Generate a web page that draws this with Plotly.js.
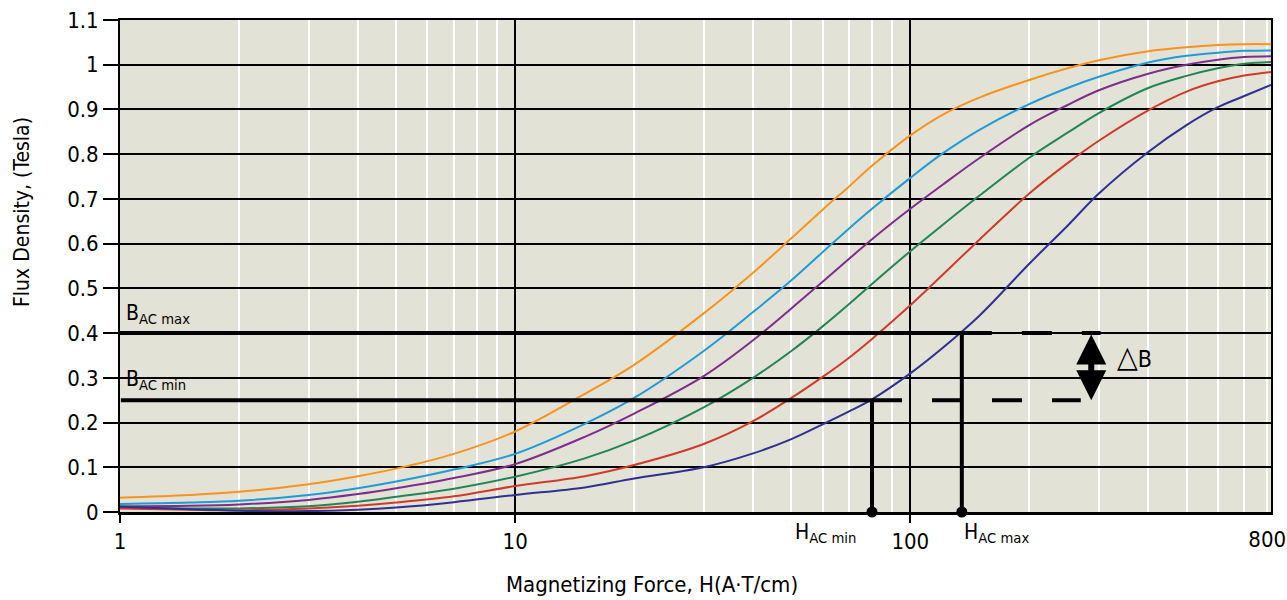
<!DOCTYPE html>
<html>
<head>
<meta charset="utf-8">
<script src="https://cdn.plot.ly/plotly-3.0.1.min.js"></script>
<style>
  html, body { margin: 0; padding: 0; background: #ffffff; }
  #chart { width: 1287px; height: 600px; }
</style>
</head>
<body>
<div id="chart"></div>
<script>
// ---- Data ----
const H = [1, 1.5, 2, 3, 4, 5, 7, 10, 15, 20, 30, 40, 50, 60, 70, 80, 100, 120, 150, 200, 250, 300, 400, 500, 600, 700, 818];

const B_ORANGE = [0.032, 0.038, 0.045, 0.062, 0.080, 0.097, 0.130, 0.180, 0.264, 0.329, 0.444, 0.535, 0.612, 0.676, 0.728, 0.774, 0.842, 0.887, 0.927, 0.966, 0.992, 1.010, 1.030, 1.039, 1.044, 1.046, 1.046];
const B_BLUE   = [0.018, 0.021, 0.025, 0.038, 0.053, 0.068, 0.095, 0.130, 0.197, 0.255, 0.360, 0.447, 0.518, 0.581, 0.634, 0.678, 0.747, 0.800, 0.855, 0.912, 0.948, 0.973, 1.005, 1.020, 1.027, 1.031, 1.032];
const B_PURPLE = [0.013, 0.014, 0.017, 0.027, 0.040, 0.053, 0.076, 0.107, 0.168, 0.220, 0.304, 0.384, 0.455, 0.515, 0.566, 0.610, 0.678, 0.730, 0.792, 0.865, 0.910, 0.943, 0.980, 1.000, 1.011, 1.017, 1.019];
const B_GREEN  = [0.010, 0.008, 0.008, 0.013, 0.023, 0.034, 0.052, 0.079, 0.120, 0.160, 0.234, 0.300, 0.360, 0.415, 0.465, 0.510, 0.583, 0.640, 0.708, 0.792, 0.848, 0.892, 0.948, 0.975, 0.992, 1.002, 1.006];
const B_RED    = [0.008, 0.005, 0.004, 0.008, 0.014, 0.021, 0.035, 0.058, 0.080, 0.105, 0.152, 0.203, 0.255, 0.302, 0.345, 0.387, 0.462, 0.528, 0.610, 0.712, 0.780, 0.830, 0.898, 0.940, 0.963, 0.976, 0.984];
const B_NAVY   = [0.012, 0.006, 0.003, 0.002, 0.005, 0.010, 0.022, 0.038, 0.055, 0.075, 0.100, 0.131, 0.163, 0.196, 0.225, 0.252, 0.310, 0.365, 0.440, 0.555, 0.640, 0.712, 0.805, 0.865, 0.905, 0.930, 0.955];

// Operating points
const B_AC_MAX = 0.4;
const B_AC_MIN = 0.25;
const H_AC_MIN = 80;
const H_AC_MAX = 135;
const H_DASH_END_MAX = 303;
const H_DASH_END_MIN = 270;
const H_DELTA_B = 287;
const H_DELTA_LABEL = 330;

// Axis ticks
const X_MAJOR = [1, 10, 100];
const X_EXTRA = [800];
const X_MINOR = [2,3,4,5,6,7,8,9,20,30,40,50,60,70,80,90,200,300,400,500,600,700,800];
const Y_TICKS = [0,0.1,0.2,0.3,0.4,0.5,0.6,0.7,0.8,0.9,1,1.1];
const Y_TICKTEXT = ['0','0.1','0.2','0.3','0.4','0.5','0.6','0.7','0.8','0.9','1','1.1'];
const X_MAX = 818;

const FONT = '"DejaVu Sans Condensed", "DejaVu Sans", sans-serif';

const curves = [
  {b: B_ORANGE, c: '#F7941D'},
  {b: B_BLUE,   c: '#1F9BD7'},
  {b: B_PURPLE, c: '#7D2E8A'},
  {b: B_GREEN,  c: '#208656'},
  {b: B_RED,    c: '#CF3B2A'},
  {b: B_NAVY,   c: '#2E3192'}
];

const traces = curves.map(cv => ({
  x: H, y: cv.b, type: 'scatter', mode: 'lines',
  line: {color: cv.c, width: 2, shape: 'spline', smoothing: 1},
  hoverinfo: 'skip', showlegend: false
}));

function seg(x, y, dash) {
  return {x: x, y: y, type: 'scatter', mode: 'lines', showlegend: false, hoverinfo: 'skip',
          line: {color: '#000', width: 4, dash: dash || 'solid'}};
}
traces.push(seg([1, H_AC_MAX], [B_AC_MAX, B_AC_MAX]));
traces.push(seg([H_AC_MAX, H_DASH_END_MAX], [B_AC_MAX, B_AC_MAX], '30px,30px'));
traces.push(seg([1.005, H_AC_MIN], [B_AC_MIN, B_AC_MIN]));
traces.push(seg([H_AC_MIN, H_DASH_END_MIN], [B_AC_MIN, B_AC_MIN], '30px,30px'));
traces.push(seg([H_AC_MIN, H_AC_MIN], [0, B_AC_MIN]));
traces.push(seg([H_AC_MAX, H_AC_MAX], [0, B_AC_MAX]));
traces.push({x: [H_AC_MIN, H_AC_MAX], y: [0, 0], type: 'scatter', mode: 'markers', cliponaxis: false,
  marker: {color: '#000', size: 11}, showlegend: false, hoverinfo: 'skip'});
traces.push({x: [X_MAX], y: [null], xaxis: 'x2', type: 'scatter', mode: 'markers', showlegend: false, hoverinfo: 'skip'});

const L = Math.log10;
const layout = {
  width: 1287, height: 600,
  margin: {l: 120, r: 16, t: 20, b: 88},
  paper_bgcolor: '#ffffff',
  plot_bgcolor: '#E3E2D6',
  font: {family: FONT, color: '#000', size: 22},
  showlegend: false,
  xaxis: {
    type: 'log', range: [0, L(X_MAX)],
    tickvals: X_MAJOR, ticktext: ['1', '10', '100'],
    showgrid: true, gridcolor: '#000', gridwidth: 2,
    ticks: 'outside', ticklen: 8, tickwidth: 2, tickcolor: '#000',
    showline: true, linecolor: '#000', linewidth: 2.5, mirror: true,
    zeroline: false,
    tickfont: {family: FONT, size: 22},
    minor: {tickvals: X_MINOR, showgrid: true, gridcolor: '#ffffff', gridwidth: 2, ticks: ''}
  },
  xaxis2: {
    type: 'log', range: [0, L(X_MAX)], overlaying: 'x', side: 'bottom',
    tickvals: X_EXTRA, ticktext: ['800'], showgrid: false, ticks: 'outside', ticklen: 8, tickcolor: 'rgba(0,0,0,0)',
    showline: false, zeroline: false, tickfont: {family: FONT, size: 22}
  },
  yaxis: {
    range: [0, 1.1], tickvals: Y_TICKS, ticktext: Y_TICKTEXT,
    showgrid: true, gridcolor: '#000', gridwidth: 2,
    ticks: 'outside', ticklen: 15, tickwidth: 2, tickcolor: '#000',
    showline: true, linecolor: '#000', linewidth: 2, mirror: true,
    zeroline: false,
    tickfont: {family: FONT, size: 22}
  },
  annotations: [
    {xref: 'x', yref: 'y', x: L(1), y: B_AC_MAX, xanchor: 'left', yanchor: 'bottom', xshift: 4, yshift: 4,
     text: 'B<sub>AC max</sub>', showarrow: false, font: {family: FONT, size: 21}},
    {xref: 'x', yref: 'y', x: L(1), y: B_AC_MIN, xanchor: 'left', yanchor: 'bottom', xshift: 4, yshift: 5,
     text: 'B<sub>AC min</sub>', showarrow: false, font: {family: FONT, size: 21}},
    {xref: 'x', yref: 'paper', x: L(H_AC_MIN), y: 0, xanchor: 'right', yanchor: 'top', xshift: -14, yshift: -6,
     text: 'H<sub>AC min</sub>', showarrow: false, font: {family: FONT, size: 21}},
    {xref: 'x', yref: 'paper', x: L(H_AC_MAX), y: 0, xanchor: 'left', yanchor: 'top', xshift: 0, yshift: -6,
     text: 'H<sub>AC max</sub>', showarrow: false, font: {family: FONT, size: 21}},
    {xref: 'x', yref: 'y', x: L(H_DELTA_B), y: B_AC_MIN, axref: 'x', ayref: 'y', ax: L(H_DELTA_B), ay: B_AC_MAX,
     text: '', showarrow: true, arrowside: 'end+start', arrowhead: 2, startarrowhead: 2,
     arrowwidth: 6, arrowsize: 1, startarrowsize: 1, arrowcolor: '#000'},
    {xref: 'x', yref: 'y', x: L(H_DELTA_LABEL), y: 0.347, xanchor: 'left', yanchor: 'middle',
     text: '<span style="font-size:30px">△</span>B', showarrow: false, font: {family: FONT, size: 23}},
    {xref: 'paper', yref: 'paper', x: -0.085, y: 0.61, xanchor: 'center', yanchor: 'middle', textangle: -90,
     text: 'Flux Density, (Tesla)', showarrow: false, font: {family: FONT, size: 21}},
    {xref: 'paper', yref: 'paper', x: 0.462, y: -0.148, xanchor: 'center', yanchor: 'middle',
     text: 'Magnetizing Force, H(A·T/cm)', showarrow: false, font: {family: FONT, size: 22}}
  ]
};

Plotly.newPlot('chart', traces, layout, {displayModeBar: false, staticPlot: true});
</script>
</body>
</html>
